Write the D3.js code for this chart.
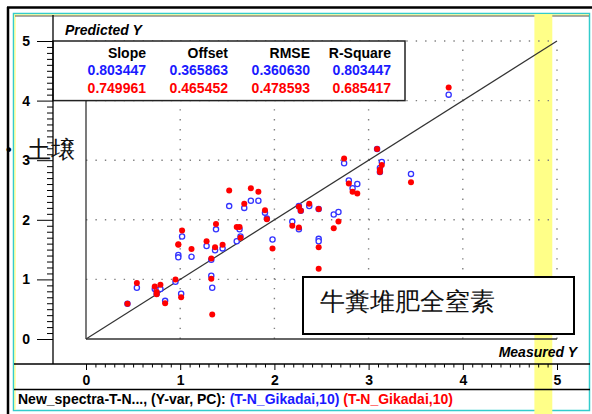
<!DOCTYPE html>
<html>
<head>
<meta charset="utf-8">
<script src="https://cdn.jsdelivr.net/npm/d3@7/dist/d3.min.js"></script>
<style>
  body { margin: 0; background: #fff; }
  text { font-family: "Liberation Sans", Arial, sans-serif; }
</style>
</head>
<body>
<div id="drawing"></div>
<script>
const width = 592;
const height = 414;

// measured vs predicted (blue = calibration, red = validation)
const measuredY = [0.44, 0.54, 0.73, 0.75, 0.75, 0.79, 0.84, 0.95, 1.01, 0.98,
  0.98, 1.02, 1.12, 1.28, 1.33, 1.33, 1.34, 1.37, 1.38, 1.45,
  1.52, 1.60, 1.63, 1.64, 1.68, 1.75, 1.83, 1.90, 1.92, 1.98,
  2.19, 2.26, 2.28, 2.26, 2.37, 2.47, 2.47, 2.47, 2.63, 2.68,
  2.74, 2.79, 2.83, 2.88, 3.09, 3.14, 3.12, 3.12, 3.45, 3.85];
const predictedCal = [0.59, 0.86, 0.84, 0.82, 0.76, 0.84, 0.64, 0.96, 0.76, 1.41,
  1.37, 1.72, 1.38, 1.56, 1.33, 1.06, 0.86, 1.49, 1.84, 1.52,
  2.23, 1.64, 1.84, 1.72, 2.20, 2.32, 2.32, 2.12, 2.02, 1.67,
  1.97, 2.23, 2.15, 1.84, 2.23, 2.18, 1.68, 1.64, 2.09, 2.13,
  2.95, 2.66, 2.53, 2.60, 3.19, 2.97, 2.87, 2.80, 2.77, 4.10];
const predictedVal = [0.59, 0.94, 0.88, 0.79, 0.75, 0.91, 0.60, 1.00, 0.70, 1.59,
  1.58, 1.82, 1.51, 1.64, 1.35, 1.01, 0.41, 1.54, 1.93, 1.58,
  2.49, 1.88, 1.88, 1.70, 2.27, 2.53, 2.47, 2.16, 2.01, 1.52,
  1.90, 2.22, 2.15, 1.87, 2.27, 2.18, 1.54, 1.18, 1.86, 1.97,
  3.03, 2.61, 2.47, 2.44, 3.19, 2.92, 2.84, 2.80, 2.63, 4.22];

const statHeaders = ["Slope", "Offset", "RMSE", "R-Square"];
const statsCal = ["0.803447", "0.365863", "0.360630", "0.803447"];
const statsVal = ["0.749961", "0.465452", "0.478593", "0.685417"];
const axisTicks = [0, 1, 2, 3, 4, 5];
const bandRange = [4.76, 4.95];

let drawing, xScale, yScale;

function setup() {
  drawing = d3.select("#drawing").append("svg")
    .attr("width", width)
    .attr("height", height)
    .style("display", "block")
    .style("background", "#fff");

  xScale = d3.scaleLinear().domain([0, 5]).range([86, 557]);
  yScale = d3.scaleLinear().domain([0, 5]).range([339, 41]);
}

function make() {
  // frame
  drawing.append("rect")
    .attr("x", 13.5).attr("y", 13.5).attr("width", 576).attr("height", 397)
    .attr("fill", "none").attr("stroke", "#33cccc").attr("stroke-width", 1.5);
  drawing.append("line").attr("x1", 14).attr("x2", 589).attr("y1", 15).attr("y2", 15)
    .attr("stroke", "#ffff66").attr("stroke-width", 1);
  drawing.append("line").attr("x1", 15).attr("x2", 15).attr("y1", 15).attr("y2", 410)
    .attr("stroke", "#ffff66").attr("stroke-width", 1);
  drawing.append("line").attr("x1", 15).attr("x2", 589).attr("y1", 16).attr("y2", 16)
    .attr("stroke", "#555").attr("stroke-width", 1);
  drawing.append("line").attr("x1", 7).attr("x2", 592).attr("y1", 7.5).attr("y2", 7.5)
    .attr("stroke", "#000").attr("stroke-width", 2.5);
  drawing.append("line").attr("x1", 8).attr("x2", 8).attr("y1", 7).attr("y2", 414)
    .attr("stroke", "#000").attr("stroke-width", 2.5);

  // yellow band
  drawing.append("rect")
    .attr("x", xScale(bandRange[0])).attr("y", 14)
    .attr("width", xScale(bandRange[1]) - xScale(bandRange[0])).attr("height", 400)
    .attr("fill", "#ffff88");

  // dotted grid
  const xStep = xScale(0.1) - xScale(0);
  const yStep = (yScale(0) - yScale(1)) / 6;
  drawing.append("g").selectAll("line")
    .data(axisTicks.slice(1))
    .enter().append("line")
      .attr("x1", xScale(0)).attr("x2", xScale(5))
      .attr("y1", (d) => yScale(d)).attr("y2", (d) => yScale(d))
      .attr("stroke", "#808080").attr("stroke-width", 1.4)
      .attr("stroke-dasharray", `1.4,${xStep - 1.4}`);
  drawing.append("g").selectAll("line")
    .data(axisTicks.slice(1))
    .enter().append("line")
      .attr("x1", (d) => xScale(d)).attr("x2", (d) => xScale(d))
      .attr("y1", yScale(0)).attr("y2", yScale(5))
      .attr("stroke", "#808080").attr("stroke-width", 1.4)
      .attr("stroke-dasharray", `1.4,${yStep - 1.4}`);

  // plot box edges
  drawing.append("line")
    .attr("x1", xScale(0)).attr("x2", xScale(0)).attr("y1", yScale(4)).attr("y2", yScale(0))
    .attr("stroke", "#333").attr("stroke-width", 1.3);
  drawing.append("line")
    .attr("x1", xScale(0)).attr("x2", xScale(5)).attr("y1", yScale(0)).attr("y2", yScale(0))
    .attr("stroke", "#333").attr("stroke-width", 1.3);

  // 1:1 line
  drawing.append("line")
    .attr("x1", xScale(0)).attr("y1", yScale(0))
    .attr("x2", xScale(5)).attr("y2", yScale(5))
    .attr("stroke", "#333").attr("stroke-width", 1.2);

  // points
  drawing.append("g").selectAll("circle")
    .data(measuredY)
    .enter().append("circle")
      .attr("cx", (d) => xScale(d))
      .attr("cy", (d, i) => yScale(predictedCal[i]))
      .attr("r", 2.6)
      .attr("fill", "#fff")
      .attr("stroke", "#3333ff").attr("stroke-width", 1.3);
  drawing.append("g").selectAll("circle")
    .data(measuredY)
    .enter().append("circle")
      .attr("cx", (d) => xScale(d))
      .attr("cy", (d, i) => yScale(predictedVal[i]))
      .attr("r", 3)
      .attr("fill", "#ff0000");

  // stats box
  drawing.append("rect")
    .attr("x", 53).attr("y", yScale(5)).attr("width", 352).attr("height", yScale(4) - yScale(5))
    .attr("fill", "#fff").attr("stroke", "#222").attr("stroke-width", 1.5);
  const colX = [146, 228, 310, 391];
  const rows = [
    {vals: statHeaders, color: "#000", y: 57.5},
    {vals: statsCal, color: "#1a1aff", y: 75},
    {vals: statsVal, color: "#ff0000", y: 93.3}
  ];
  rows.forEach((row) => {
    drawing.append("g").selectAll("text")
      .data(row.vals)
      .enter().append("text")
        .attr("x", (d, i) => colX[i])
        .attr("y", row.y)
        .attr("text-anchor", "end")
        .attr("font-size", 14).attr("font-weight", "bold")
        .attr("fill", row.color)
        .text((d) => d);
  });

  // axes
  const minorTicks = d3.range(1, 50).filter((d) => d % 10 !== 0).map((d) => d / 10);
  const yAxis = drawing.append("g")
    .attr("transform", "translate(53,0)")
    .call(d3.axisLeft(yScale).tickValues(axisTicks).tickFormat(d3.format("d"))
      .tickSize(16).tickPadding(7));
  drawing.append("g")
    .attr("transform", "translate(53,0)")
    .call(d3.axisLeft(yScale).tickValues(minorTicks).tickSize(6).tickFormat(""))
    .select(".domain").remove();
  const xAxis = drawing.append("g")
    .attr("transform", "translate(0,364)")
    .call(d3.axisBottom(xScale).tickValues(axisTicks).tickFormat(d3.format("d"))
      .tickSize(6).tickPadding(5));
  drawing.append("g")
    .attr("transform", "translate(0,364)")
    .call(d3.axisBottom(xScale).tickValues(minorTicks).tickSize(3.5).tickFormat(""))
    .select(".domain").remove();
  [yAxis, xAxis].forEach((a) => {
    a.select(".domain").remove();
    a.selectAll("text").attr("font-size", 14).attr("font-weight", "bold")
      .attr("font-family", "Liberation Sans, Arial, sans-serif").attr("fill", "#000");
  });
  drawing.selectAll(".tick line").attr("stroke", "#000");

  drawing.append("line").attr("x1", 53).attr("x2", 53).attr("y1", 15).attr("y2", 364)
    .attr("stroke", "#000").attr("stroke-width", 1.3);
  drawing.append("line").attr("x1", 14).attr("x2", 590).attr("y1", 364).attr("y2", 364)
    .attr("stroke", "#000").attr("stroke-width", 1.3);
  drawing.append("line").attr("x1", 14).attr("x2", 590).attr("y1", 389.5).attr("y2", 389.5)
    .attr("stroke", "#000").attr("stroke-width", 1.3);

  // axis titles
  drawing.append("text")
    .attr("x", 65).attr("y", 34.5)
    .attr("font-size", 14).attr("font-weight", "bold").attr("font-style", "italic")
    .text("Predicted Y");
  drawing.append("text")
    .attr("x", 577).attr("y", 357)
    .attr("text-anchor", "end")
    .attr("font-size", 14).attr("font-weight", "bold").attr("font-style", "italic")
    .text("Measured Y");

  // footer
  const footer = drawing.append("text")
    .attr("x", 18).attr("y", 404)
    .attr("font-size", 14).attr("font-weight", "bold");
  footer.append("tspan").attr("fill", "#000").text("New_spectra-T-N..., (Y-var, PC): ");
  footer.append("tspan").attr("fill", "#1a1aff").text("(T-N_Gikadai,10)");
  footer.append("tspan").attr("fill", "#ff0000").text(" (T-N_Gikadai,10)");

  // annotation box
  drawing.append("rect")
    .attr("x", 303).attr("y", 277).attr("width", 271).attr("height", 57)
    .attr("fill", "#fff").attr("stroke", "#000").attr("stroke-width", 2);
  drawing.append("text")
    .attr("x", 320).attr("y", 310)
    .attr("font-family", "Noto Sans CJK JP")
    .attr("font-size", 25)
    .attr("fill", "#111")
    .text("牛糞堆肥全窒素");

  // side label
  drawing.append("text")
    .attr("x", 6).attr("y", 155)
    .attr("font-size", 16).attr("font-weight", "bold")
    .text("•");
  drawing.append("text")
    .attr("x", 27).attr("y", 158)
    .attr("font-family", "Noto Sans CJK JP")
    .attr("font-size", 24)
    .attr("fill", "#111")
    .text("土壌");
}

setup();
make();
</script>
</body>
</html>
